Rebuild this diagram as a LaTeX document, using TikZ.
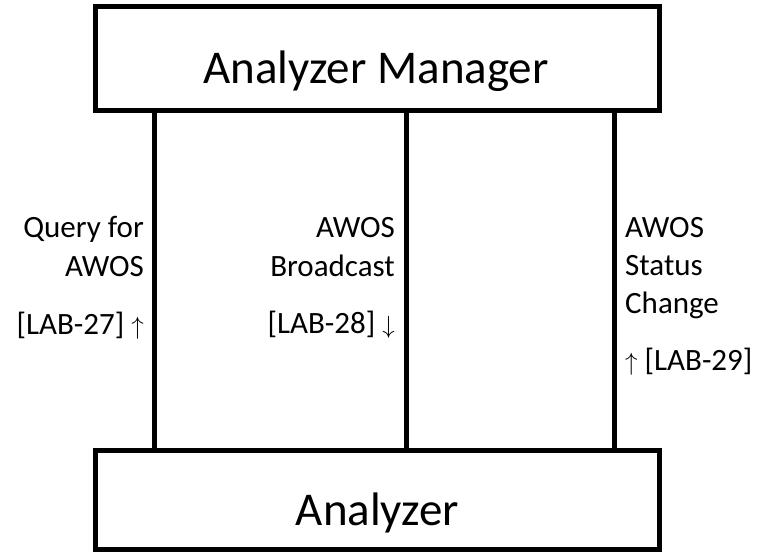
\documentclass[tikz,border=0pt]{standalone}
\usepackage{fontspec}
\setmainfont{Carlito}
\begin{document}
\begin{tikzpicture}[x=1pt,y=1pt,
  box/.style={draw=black,line width=5pt,minimum width=564.5pt,inner sep=0pt,fill=white},
  title/.style={inner sep=0pt,anchor=base,font=\fontsize{47}{56}\selectfont},
  lab/.style={inner sep=0pt,font=\fontsize{31}{38}\selectfont},
  link/.style={line width=5.5pt}]
\useasboundingbox (0,0) rectangle (760,552);
\node[box,minimum height=104pt] (mgr) at (377.25,493) {};
\node[box,minimum height=99.5pt] (ana) at (377.25,52.25) {};
\node[title] (mgrt) at (376,468.5) {Analyzer Manager};
\node[title] (anat) at (377.5,27) {Analyzer};
\coordinate (c1) at (154.7,300);
\coordinate (c2) at (406.5,300);
\coordinate (c3) at (614.5,300);
\draw[link] (c1 |- mgr.south) -- (c1 |- ana.north);
\draw[link] (c2 |- mgr.south) -- (c2 |- ana.north);
\draw[link] (c3 |- mgr.south) -- (c3 |- ana.north);
\newcommand{\upa}{{\fontsize{25}{25}\selectfont$\uparrow$}}
\newcommand{\dna}{{\fontsize{25}{25}\selectfont$\downarrow$}}
% left
\node[lab,anchor=base east] (l1a) at (144,314) {Query for};
\node[lab,anchor=base east] (l1b) at (144,275) {AWOS};
\node[lab,anchor=base east] (l1c) at (144,218) {[LAB-27] \upa};
% middle
\node[lab,anchor=base east] (l2a) at (395,314.5) {AWOS};
\node[lab,anchor=base east] (l2b) at (395,275.5) {Broadcast};
\node[lab,anchor=base east] (l2c) at (395,218.5) {[LAB-28] \dna};
% right
\node[lab,anchor=base west] (l3a) at (625,314.5) {AWOS};
\node[lab,anchor=base west] (l3b) at (625,276.5) {Status};
\node[lab,anchor=base west] (l3c) at (625,238.5) {Change};
\node[lab,anchor=base west] (l3d) at (625,181.5) {\upa{} [LAB-29]};
\end{tikzpicture}
\end{document}
